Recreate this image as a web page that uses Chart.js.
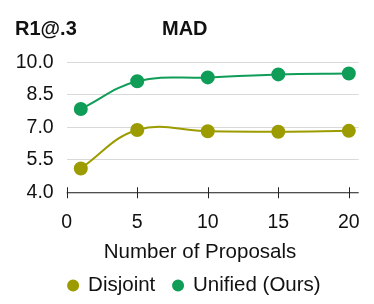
<!DOCTYPE html>
<html><head><meta charset="utf-8">
<script src="https://cdn.jsdelivr.net/npm/chart.js@4"></script>
<style>html,body{margin:0;padding:0;background:#fff}#w{width:374px;height:304px}</style>
</head><body><div id="w"><canvas id="c" width="374" height="304"></canvas></div>
<script>
const proposals = [1, 5, 10, 15, 20];
const disjoint = [5.1, 6.88, 6.82, 6.80, 6.84];
const unified = [7.85, 9.13, 9.31, 9.45, 9.49];
const yTicks = [4.0, 5.5, 7.0, 8.5, 10.0];
const xTicks = [0, 5, 10, 15, 20];
const seriesNames = ['Disjoint', 'Unified (Ours)'];
const chartTitle = 'MAD';
const yTitle = 'R1@.3';
const xTitle = 'Number of Proposals';

const FONT = "'Liberation Sans', Arial, sans-serif";
const olive = '#9c9c00';
const green = '#0f9d58';

const titles = {
  id: 'titles',
  afterLayout(chart) {
    // nudge the centred legend row slightly to the right
    chart.legend.left += 15.3;
  },
  afterDraw(chart) {
    const ctx = chart.ctx;
    ctx.save();
    ctx.fillStyle = '#111';
    ctx.font = 'bold 20px ' + FONT;
    ctx.textBaseline = 'alphabetic';
    ctx.textAlign = 'left';
    ctx.fillText(yTitle, 15, 35);
    ctx.fillText(chartTitle, 162, 35);
    ctx.font = '20.5px ' + FONT;
    ctx.textAlign = 'center';
    ctx.fillText(xTitle, 200, 257.5);
    const xs = chart.scales.x, ys = chart.scales.y;
    const y0 = ys.getPixelForValue(4);
    ctx.strokeStyle = '#222';
    ctx.lineWidth = 1;
    ctx.beginPath();
    ctx.moveTo(xs.left, y0 + 0.5); ctx.lineTo(xs.right, y0 + 0.5);
    xTicks.forEach(v => {
      const px = Math.round(xs.getPixelForValue(v)) + 0.5;
      ctx.moveTo(px, y0 - 5); ctx.lineTo(px, y0 + 6);
    });
    ctx.stroke();
    ctx.restore();
  }
};

new Chart(document.getElementById('c'), {
  type: 'line',
  data: {
    datasets: [
      { label: seriesNames[0], data: proposals.map((x, i) => ({x, y: disjoint[i]})),
        borderColor: olive, backgroundColor: olive, pointBackgroundColor: olive, pointBorderColor: olive,
        borderWidth: 2, pointRadius: 6, tension: 0.4 },
      { label: seriesNames[1], data: proposals.map((x, i) => ({x, y: unified[i]})),
        borderColor: green, backgroundColor: green, pointBackgroundColor: green, pointBorderColor: green,
        borderWidth: 2, pointRadius: 6, tension: 0.4 }
    ]
  },
  options: {
    responsive: false,
    animation: false,
    layout: { padding: { top: 62.5, right: 15.3, left: 15, bottom: -1.75 } },
    plugins: {
      legend: {
        position: 'bottom',
        labels: { usePointStyle: true, pointStyle: 'circle', boxWidth: 9.5, boxHeight: 7.1,
          font: { family: FONT, size: 20.5 }, color: '#111', padding: 18 }
      },
      tooltip: { enabled: false }
    },
    scales: {
      x: {
        type: 'linear', min: 0, max: 20.7,
        afterBuildTicks: s => { s.ticks = xTicks.map(v => ({value: v})); },
        afterFit: s => { s.height = 65; },
        ticks: { font: { family: FONT, size: 19.5 }, color: '#111', padding: 5 },
        grid: { display: false, drawTicks: true, tickLength: 14 },
        border: { display: false },
        title: { display: false }
      },
      y: {
        min: 4, max: 10,
        afterBuildTicks: s => { s.ticks = yTicks.map(v => ({value: v})); },
        afterFit: s => { s.width = 51.7; },
        ticks: { font: { family: FONT, size: 19.5 }, color: '#111', padding: 13,
          callback: v => v.toFixed(1) },
        grid: { color: '#d9d9d9', drawTicks: false, lineWidth: 1 },
        border: { display: false }
      }
    }
  },
  plugins: [titles]
});
</script></body></html>
